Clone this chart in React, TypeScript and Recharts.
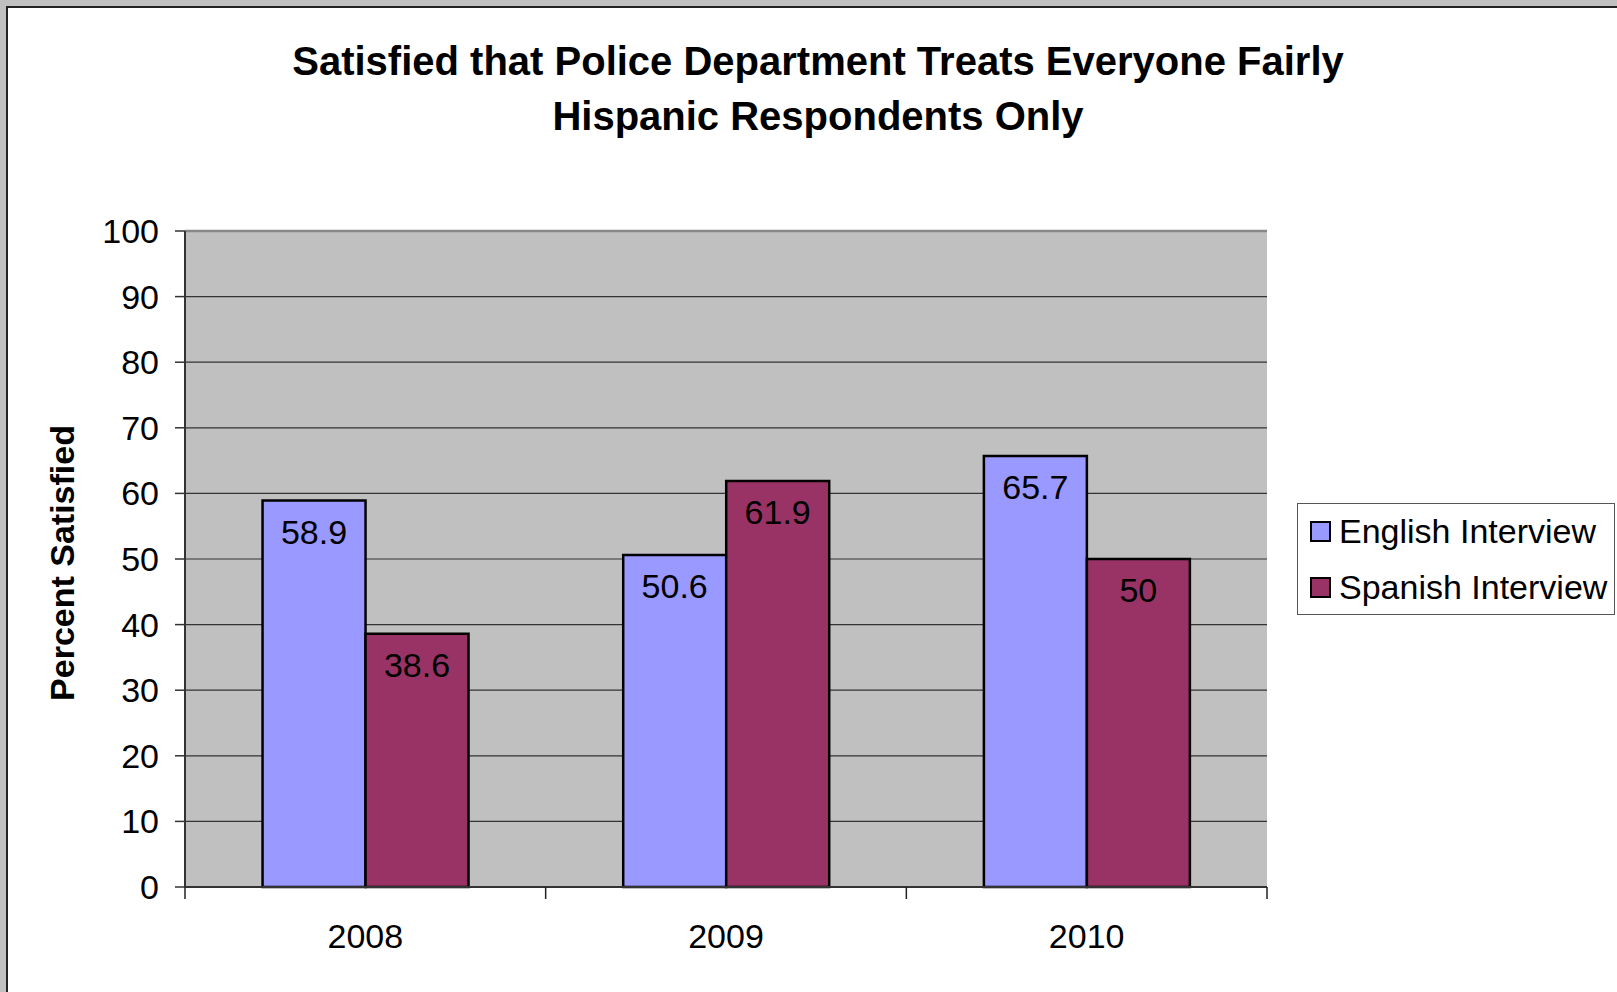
import React from 'react';
import { BarChart, Bar, XAxis, YAxis, CartesianGrid, LabelList, Legend, ReferenceLine } from 'recharts';

const years = ['2008', '2009', '2010'];
const englishValues = [58.9, 50.6, 65.7];
const spanishValues = [38.6, 61.9, 50];
const yTicks = [0, 10, 20, 30, 40, 50, 60, 70, 80, 90, 100];
const seriesNames = ['English Interview', 'Spanish Interview'];
const seriesColors = ['#9999FF', '#993366'];
const titleLines = ['Satisfied that Police Department Treats Everyone Fairly', 'Hispanic Respondents Only'];
const yAxisTitle = 'Percent Satisfied';

const data = years.map((y, i) => ({ year: y, english: englishValues[i], spanish: spanishValues[i] }));

const FONT = '"Liberation Sans", Arial, Helvetica, sans-serif';
const FS = 34;

const XTick = (props: any) => {
  const { x, y, payload, index, visibleTicksCount } = props;
  const half = payload && payload.offset ? payload.offset : 0;
  const axisY = y - 38;
  const last = index === (visibleTicksCount ? visibleTicksCount - 1 : years.length - 1);
  return (
    <g>
      <line x1={x - half} x2={x - half} y1={axisY} y2={axisY + 12} stroke="#222" strokeWidth={1.5} />
      {last && <line x1={x + half} x2={x + half} y1={axisY} y2={axisY + 12} stroke="#222" strokeWidth={1.5} />}
      <text x={x} y={y - 1} dy="0.71em" textAnchor="middle" fontSize={FS} fontFamily={FONT} fill="#000">
        {payload.value}
      </text>
    </g>
  );
};

const LegendContent = () => (
  <div
    style={{
      border: '1.5px solid #555',
      background: '#fff',
      boxSizing: 'border-box',
      width: 318,
      height: 112,
      padding: '14px 0 0 12px',
      fontFamily: FONT,
      fontSize: FS,
      color: '#000',
    }}
  >
    {seriesNames.map((n, i) => (
      <div key={n} style={{ display: 'flex', alignItems: 'center', height: 56, marginTop: i === 0 ? -15 : 0 }}>
        <span
          style={{
            display: 'inline-block',
            width: 17,
            height: 17,
            background: seriesColors[i],
            border: '2px solid #000',
            marginRight: 8,
          }}
        />
        <span style={{ whiteSpace: 'nowrap' }}>{n}</span>
      </div>
    ))}
  </div>
);

export default function App() {
  return (
    <div style={{ position: 'absolute', left: 0, top: 0, width: 1617, height: 992, background: '#C0C0C0', overflow: 'hidden' }}>
      <div
        style={{
          position: 'absolute',
          left: 6,
          top: 6,
          width: 1700,
          height: 1100,
          background: '#fff',
          borderLeft: '2px solid #222',
          borderTop: '2px solid #222',
        }}
      />
      <div
        style={{
          position: 'absolute',
          left: 0,
          top: 0,
          width: 1636,
          textAlign: 'center',
          fontFamily: FONT,
          fontWeight: 'bold',
          fontSize: 40,
          lineHeight: '55px',
          paddingTop: 34,
          color: '#000',
        }}
      >
        {titleLines.map((t) => (
          <div key={t}>{t}</div>
        ))}
      </div>
      <div style={{ position: 'absolute', left: 0, top: 0 }}>
        <BarChart
          width={1617}
          height={992}
          data={data}
          margin={{ top: 231, right: 350, bottom: 45, left: 0 }}
          barCategoryGap="21.5%"
          barGap={0}
        >
          <CartesianGrid vertical={false} horizontal fill="#C0C0C0" stroke="#333" strokeWidth={1.2} />
          <XAxis
            dataKey="year"
            height={60}
            tickSize={12}
            tickMargin={26}
            tickLine={false}
            tick={<XTick />}
            axisLine={{ stroke: '#333', strokeWidth: 2 }}
            interval={0}
          />
          <YAxis
            width={185}
            domain={[0, 100]}
            ticks={yTicks}
            interval={0}
            tickSize={10}
            tickMargin={16}
            tickLine={{ stroke: '#333', strokeWidth: 1.5 }}
            axisLine={{ stroke: '#333', strokeWidth: 2 }}
            tick={{ fontSize: FS, fill: '#000', fontFamily: FONT }}
            label={{
              value: yAxisTitle,
              angle: -90,
              position: 'insideLeft',
              offset: 62,
              dy: 4,
              style: { textAnchor: 'middle', fontSize: 34, fontWeight: 'bold', fontFamily: FONT, fill: '#000' },
            }}
          />
          <YAxis
            yAxisId="right"
            orientation="right"
            width={0}
            tick={false}
            tickLine={false}
            axisLine={{ stroke: '#888', strokeWidth: 3 }}
          />
          <ReferenceLine y={100} stroke="#888" strokeWidth={2.5} />
          <Legend
            layout="horizontal"
            verticalAlign="middle"
            align="center"
            content={<LegendContent />}
            wrapperStyle={{ left: 1297, top: 503, width: 318, height: 112 }}
          />
          <Bar dataKey="english" name={seriesNames[0]} fill={seriesColors[0]} stroke="#000" strokeWidth={2.5} isAnimationActive={false}>
            <LabelList dataKey="english" position="insideTop" offset={19} fill="#000" fontSize={FS} fontFamily={FONT} />
          </Bar>
          <Bar dataKey="spanish" name={seriesNames[1]} fill={seriesColors[1]} stroke="#000" strokeWidth={2.5} isAnimationActive={false}>
            <LabelList dataKey="spanish" position="insideTop" offset={19} fill="#000" fontSize={FS} fontFamily={FONT} />
          </Bar>
        </BarChart>
      </div>
    </div>
  );
}
